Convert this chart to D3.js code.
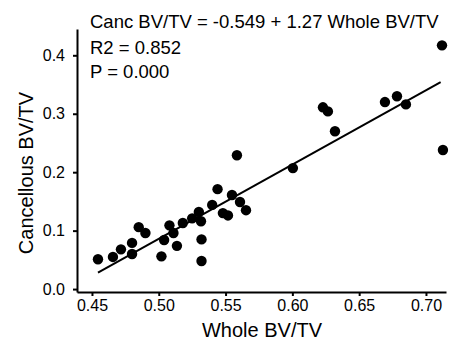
<!DOCTYPE html>
<html>
<head>
<meta charset="utf-8">
<title>cancellous vs whole BV/TV</title>
<script src="https://d3js.org/d3.v7.min.js"></script>
<style>
body{ margin:0; background:#fff; }
svg text{ font-family:"Liberation Sans", Arial, sans-serif; fill:#000; }
.axis path, .axis line{ stroke:#000; stroke-width:2; }
.axis text{ font-size:16px; }
</style>
</head>
<body>
<svg class="chart" width="456" height="342"></svg>
<script>
// data
var wholeBV = [0.4545, 0.4657, 0.4717, 0.480, 0.480, 0.485, 0.490, 0.502, 0.504, 0.508,
               0.511, 0.5136, 0.518, 0.525, 0.530, 0.5316, 0.532, 0.532, 0.540, 0.544,
               0.548, 0.5518, 0.5548, 0.5585, 0.5608, 0.5653, 0.6004, 0.6229, 0.6266, 0.6319,
               0.6693, 0.6783, 0.685, 0.712, 0.7127];
var cancBV  = [0.051, 0.055, 0.068, 0.079, 0.060, 0.106, 0.096, 0.056, 0.084, 0.109,
               0.096, 0.074, 0.113, 0.121, 0.132, 0.116, 0.085, 0.048, 0.144, 0.171,
               0.130, 0.126, 0.161, 0.229, 0.149, 0.135, 0.207, 0.311, 0.304, 0.270,
               0.320, 0.330, 0.316, 0.417, 0.238];

var fitIntercept = -0.549;
var fitSlope = 1.27;
var fitRange = [0.4545, 0.711];

var xTicks = [0.45, 0.50, 0.55, 0.60, 0.65, 0.70];
var yTicks = [0.0, 0.1, 0.2, 0.3, 0.4];

var notes = ["Canc BV/TV = -0.549 + 1.27 Whole BV/TV", "R2 = 0.852", "P = 0.000"];

var points = wholeBV.map(function(d, i){ return {x: d, y: cancBV[i]}; });

var svg = d3.select(".chart");

var x = d3.scaleLinear().domain([0.4388, 0.715]).range([77, 446]);
var y = d3.scaleLinear().domain([-0.005, 0.445]).range([292, 29]);

//bottom axis
svg.append("g")
	.attr("class", "axis")
	.attr("transform", "translate(0," + y(-0.005) + ")")
	.call(d3.axisBottom(x).tickValues(xTicks).tickFormat(d3.format(".2f"))
		.tickSize(4).tickSizeOuter(0).tickPadding(4));

//left axis
svg.append("g")
	.attr("class", "axis")
	.attr("transform", "translate(" + x(0.4388) + ",0)")
	.call(d3.axisLeft(y).tickValues(yTicks).tickFormat(d3.format(".1f"))
		.tickSize(4).tickSizeOuter(0).tickPadding(8));

//fit line
svg.append("line")
	.attr("x1", x(fitRange[0]))
	.attr("y1", y(fitIntercept + fitSlope * fitRange[0]))
	.attr("x2", x(fitRange[1]))
	.attr("y2", y(fitIntercept + fitSlope * fitRange[1]))
	.attr("stroke", "#000")
	.attr("stroke-width", 2);

//points
svg.selectAll(".dot")
	.data(points)
	.enter()
	.append("circle")
	.attr("class", "dot")
	.attr("cx", function(d){ return x(d.x); })
	.attr("cy", function(d){ return y(d.y); })
	.attr("r", 5.2)
	.attr("fill", "#000");

//labels
svg.append("text")
	.attr("x", 262)
	.attr("y", 337)
	.attr("text-anchor", "middle")
	.style("font-size", "20px")
	.text("Whole BV/TV");

svg.append("text")
	.attr("transform", "translate(33,173) rotate(-90)")
	.attr("text-anchor", "middle")
	.style("font-size", "20px")
	.text("Cancellous BV/TV");

var noteY = [28, 54, 78];
svg.selectAll(".note")
	.data(notes)
	.enter()
	.append("text")
	.attr("class", "note")
	.attr("x", 90)
	.attr("y", function(d, i){ return noteY[i]; })
	.style("font-size", "18.5px")
	.text(function(d){ return d; });
</script>
</body>
</html>
